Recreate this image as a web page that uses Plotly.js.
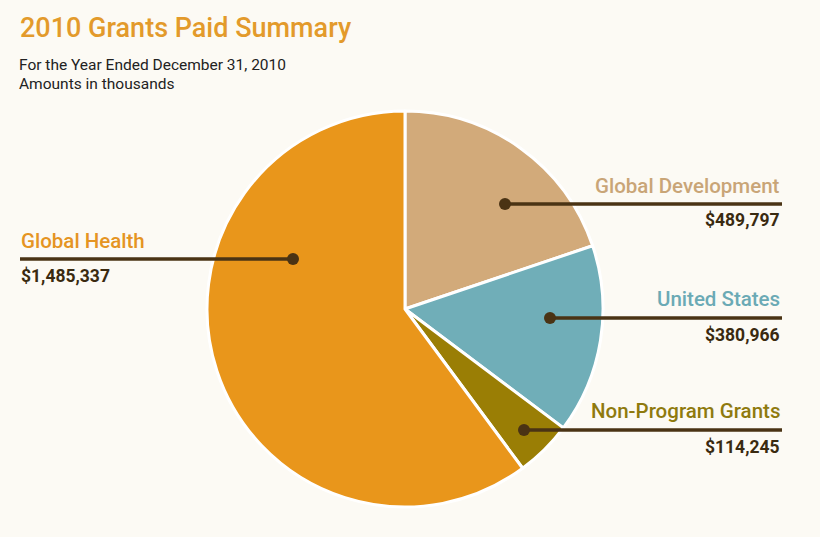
<!DOCTYPE html>
<html><head><meta charset="utf-8">
<script src="https://cdn.plot.ly/plotly-3.0.1.min.js"></script>
<style>html,body{margin:0;padding:0;background:#fcfaf4;}#chart{width:820px;height:537px;}</style>
</head><body><div id="chart"></div>
<script>
const categories = ["Global Development", "United States", "Non-Program Grants", "Global Health"];
const values = [489797, 380966, 114245, 1485337];
const valueLabels = ["$489,797", "$380,966", "$114,245", "$1,485,337"];
const sliceColors = ["#D2AA7A", "#70AEB8", "#9A7E05", "#E9961B"];
const labelColors = ["#C9A577", "#6BAAB5", "#8F7A0E", "#E59422"];

const W = 820, H = 537;
const px = x => x / W, py = y => 1 - y / H;
const dark = "#4a3314";
const font = "Roboto, 'Open Sans', sans-serif";

// label layout: [dotX, dotY, lineStartX, lineEndX, textX, anchor, nameY, valueY]
const labelPos = [
  [505, 204, 505, 782, 782, "right", 186, 220],
  [550, 318, 550, 782, 782, "right", 299, 335],
  [524, 430, 524, 782, 782, "right", 411, 447],
  [293, 259, 20, 293, 19, "left", 241, 276]
];

const shapes = [], annotations = [];
labelPos.forEach((p, i) => {
  shapes.push({type: "line", xref: "paper", yref: "paper", x0: px(p[2]), x1: px(p[3]), y0: py(p[1]), y1: py(p[1]), line: {color: dark, width: 3.5}});
  shapes.push({type: "circle", xref: "paper", yref: "paper", x0: px(p[0] - 6), x1: px(p[0] + 6), y0: py(p[1] + 6), y1: py(p[1] - 6), fillcolor: dark, line: {width: 0}});
  annotations.push({xref: "paper", yref: "paper", x: px(p[4]), y: py(p[6]), xanchor: p[5], yanchor: "middle", text: categories[i], showarrow: false, font: {family: font, size: 20.5, weight: 500, color: labelColors[i]}});
  annotations.push({xref: "paper", yref: "paper", x: px(p[4]), y: py(p[7]), xanchor: p[5], yanchor: "middle", text: "<b>" + valueLabels[i] + "</b>", showarrow: false, font: {family: font, size: 17.5, color: "#3a2a10"}});
});

annotations.push({xref: "paper", yref: "paper", x: px(18), y: py(28), xanchor: "left", yanchor: "middle", text: "2010 Grants Paid Summary", showarrow: false, font: {family: font, size: 27, weight: 500, color: "#E39A2B"}});
annotations.push({xref: "paper", yref: "paper", x: px(17), y: py(65), xanchor: "left", yanchor: "middle", text: "For the Year Ended December 31, 2010", showarrow: false, font: {family: font, size: 15.5, color: "#222"}});
annotations.push({xref: "paper", yref: "paper", x: px(17), y: py(84), xanchor: "left", yanchor: "middle", text: "Amounts in thousands", showarrow: false, font: {family: font, size: 15.5, color: "#222"}});

const cx = 405, cy = 309, r = 198;
const trace = {
  type: "pie", labels: categories, values: values, sort: false, direction: "clockwise", rotation: 0,
  marker: {colors: sliceColors, line: {color: "#ffffff", width: 3}},
  textinfo: "none", hoverinfo: "label+value", showlegend: false,
  domain: {x: [px(cx - r), px(cx + r)], y: [py(cy + r), py(cy - r)]}
};

Plotly.newPlot("chart", [trace], {
  width: W, height: H, margin: {l: 0, r: 0, t: 0, b: 0},
  paper_bgcolor: "#fcfaf4", plot_bgcolor: "#fcfaf4",
  shapes: shapes, annotations: annotations, showlegend: false
}, {displayModeBar: false, staticPlot: true});
</script></body></html>
